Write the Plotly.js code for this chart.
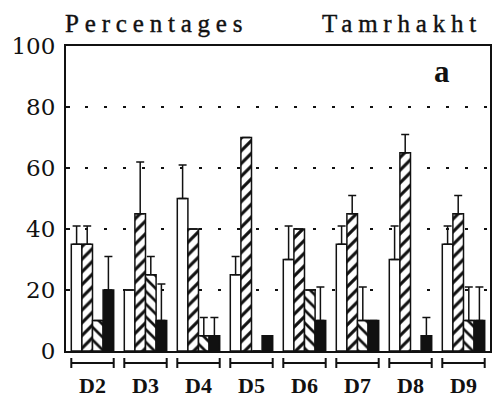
<!DOCTYPE html>
<html>
<head>
<meta charset="utf-8">
<script src="https://cdn.plot.ly/plotly-3.0.1.min.js"></script>
<style>
  html, body { margin: 0; padding: 0; background: #fff; }
  #chart { width: 493px; height: 403px; }
</style>
</head>
<body>
<div id="chart"></div>
<script>
// ---- data ----
const categories = ['D2', 'D3', 'D4', 'D5', 'D6', 'D7', 'D8', 'D9'];
const openVals   = [35, 20, 50, 25, 30, 35, 30, 35];
const openErr    = [6, 0, 11, 6, 11, 6, 11, 6];
const slashVals  = [35, 45, 40, 70, 40, 45, 65, 45];
const slashErr   = [6, 17, 0, 0, 0, 6, 6, 6];
const backVals   = [10, 25, 5, 0, 20, 10, 0, 10];
const backErr    = [0, 6, 6, 0, 0, 11, 0, 11];
const blackVals  = [20, 10, 5, 5, 10, 10, 5, 10];
const blackErr   = [11, 12, 6, 0, 11, 0, 6, 11];
const yTicks     = [0, 20, 40, 60, 80, 100];

const zeros = categories.map(() => 0);
function errY(arr) {
  return { type: 'data', symmetric: false, array: arr, arrayminus: zeros,
           color: '#111', thickness: 1.5, width: 4 };
}
const outline = { color: '#111', width: 1.5 };

const traces = [
  { type: 'bar', x: categories, y: openVals, error_y: errY(openErr),
    marker: { color: '#fff', line: outline } },
  { type: 'bar', x: categories, y: slashVals, error_y: errY(slashErr),
    marker: { color: '#fff', line: outline,
              pattern: { shape: '/', fgcolor: '#111', bgcolor: '#fff', size: 9, solidity: 0.35 } } },
  { type: 'bar', x: categories, y: backVals, error_y: errY(backErr),
    marker: { color: '#fff', line: outline,
              pattern: { shape: '\\', fgcolor: '#111', bgcolor: '#fff', size: 9, solidity: 0.3 } } },
  { type: 'bar', x: categories, y: blackVals, error_y: errY(blackErr),
    marker: { color: '#111', line: outline } }
];

// group brackets under the axis, one per category
const shapes = [];
categories.forEach((c, i) => {
  const common = { type: 'line', xref: 'x', yref: 'paper', ysizemode: 'pixel',
                   yanchor: 0, line: { color: '#111', width: 2 } };
  shapes.push(Object.assign({}, common, { x0: i - 0.4, x1: i + 0.4, y0: -12, y1: -12 }));
  shapes.push(Object.assign({}, common, { x0: i - 0.4, x1: i - 0.4, y0: -7, y1: -17 }));
  shapes.push(Object.assign({}, common, { x0: i + 0.4, x1: i + 0.4, y0: -7, y1: -17 }));
});

const layout = {
  width: 493, height: 403,
  margin: { l: 66, r: 3, t: 46, b: 52 },
  paper_bgcolor: '#fff', plot_bgcolor: '#fff',
  showlegend: false,
  barmode: 'group', bargap: 0.2, bargroupgap: 0,
  xaxis: {
    type: 'category', showgrid: false, zeroline: false,
    showline: true, linecolor: '#111', linewidth: 2, mirror: true,
    ticks: '', ticklabelstandoff: 14,
    tickfont: { family: 'Liberation Serif', size: 22, color: '#111', weight: 'bold' }
  },
  yaxis: {
    range: [0, 100], tickvals: yTicks, zeroline: false,
    showline: true, linecolor: '#111', linewidth: 2, mirror: true,
    ticks: 'inside', ticklen: 4, tickcolor: '#111', tickwidth: 1.5,
    ticklabelstandoff: 4,
    showgrid: true, gridcolor: '#111', gridwidth: 2.5, griddash: '3px,16px',
    tickfont: { family: 'DejaVu Serif', size: 23, color: '#111', weight: 500 }
  },
  shapes: shapes,
  annotations: [
    { text: 'Percentages', xref: 'paper', yref: 'paper', x: 0.214, y: 1.074,
      xanchor: 'center', yanchor: 'middle', showarrow: false,
      font: { family: 'Liberation Serif', size: 25, color: '#111' } },
    { text: 'Tamrhakht', xref: 'paper', yref: 'paper', x: 0.792, y: 1.074,
      xanchor: 'center', yanchor: 'middle', showarrow: false,
      font: { family: 'Liberation Serif', size: 25, color: '#111' } },
    { text: 'a', xref: 'paper', yref: 'paper', x: 0.886, y: 0.918,
      xanchor: 'center', yanchor: 'middle', showarrow: false,
      font: { family: 'Liberation Serif', size: 31, color: '#111', weight: 'bold' } }
  ]
};

Plotly.newPlot('chart', traces, layout, { staticPlot: true }).then(gd => {
  gd.querySelectorAll('.annotation-text').forEach(t => {
    if (t.textContent === 'Percentages' || t.textContent === 'Tamrhakht') {
      t.style.letterSpacing = '5.8px';
      t.style.stroke = '#111';
      t.style.strokeWidth = '0.4px';
    }
  });
});
</script>
</body>
</html>
